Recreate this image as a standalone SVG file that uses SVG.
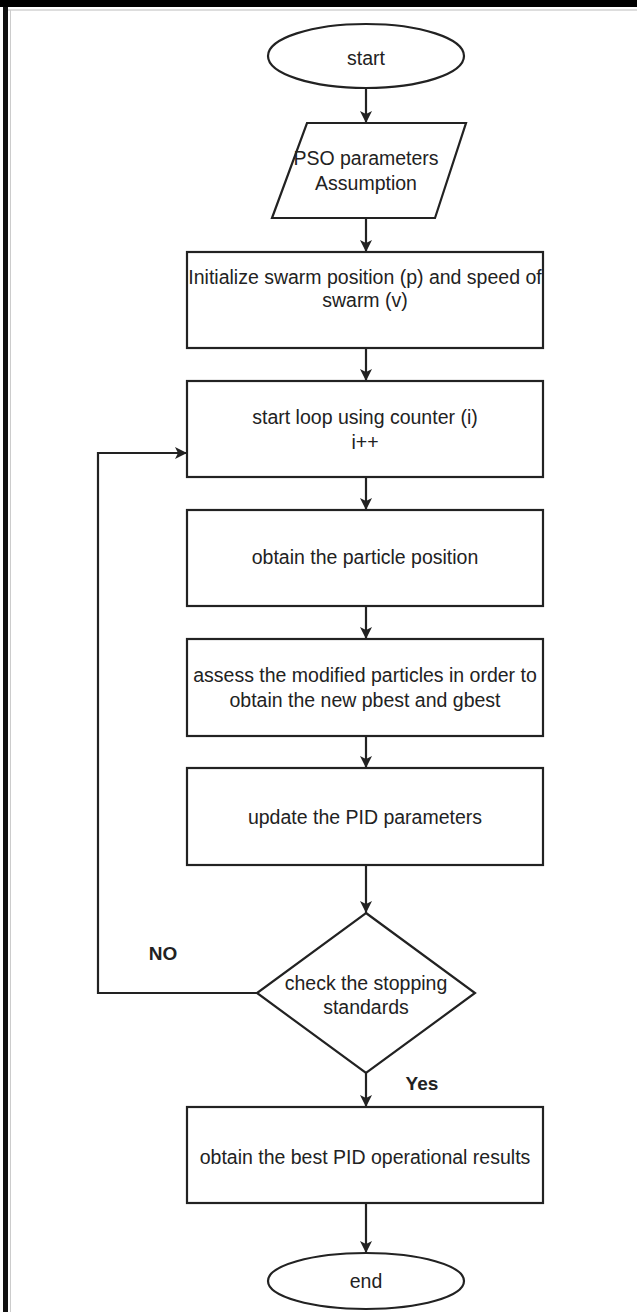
<svg xmlns="http://www.w3.org/2000/svg" width="637" height="1312" viewBox="0 0 637 1312">
<style>
.s{fill:#fff;stroke:#222;stroke-width:2.2}
.t{font-family:"Liberation Sans",Arial,sans-serif;font-size:19.5px;fill:#222;text-anchor:middle}
.b{font-weight:bold;font-size:19px}
.c{fill:none;stroke:#222;stroke-width:2.2}
</style>
<defs>
<marker id="ah" markerUnits="userSpaceOnUse" markerWidth="14" markerHeight="14" viewBox="0 0 14 14" refX="13" refY="7" orient="auto">
<path d="M1,1 L13,7 L1,13 L4,7 z" fill="#222"/>
</marker>
</defs>
<rect x="0" y="0" width="637" height="1312" fill="#fff"/>
<rect x="0" y="0" width="637" height="7" fill="#000"/>
<line x1="8" y1="10" x2="637" y2="10" stroke="#bbb" stroke-width="1"/>
<rect x="3" y="7" width="5" height="1305" fill="#111"/>
<line x1="10.5" y1="10" x2="10.5" y2="1312" stroke="#ccc" stroke-width="1"/>

<g id="connectors">
<line class="c" x1="366" y1="88" x2="366" y2="123" marker-end="url(#ah)"/>
<line class="c" x1="366" y1="218" x2="366" y2="252" marker-end="url(#ah)"/>
<line class="c" x1="366" y1="348" x2="366" y2="381" marker-end="url(#ah)"/>
<line class="c" x1="366" y1="477" x2="366" y2="510" marker-end="url(#ah)"/>
<line class="c" x1="366" y1="606" x2="366" y2="639" marker-end="url(#ah)"/>
<line class="c" x1="366" y1="736" x2="366" y2="768" marker-end="url(#ah)"/>
<line class="c" x1="366" y1="865" x2="366" y2="913" marker-end="url(#ah)"/>
<line class="c" x1="366" y1="1073" x2="366" y2="1107" marker-end="url(#ah)"/>
<line class="c" x1="366" y1="1203" x2="366" y2="1253" marker-end="url(#ah)"/>
<path class="c" d="M257,993 H98 V453 H187" marker-end="url(#ah)"/>
<text class="t b" x="163" y="960">NO</text>
<text class="t b" x="422" y="1090">Yes</text>
</g>

<g id="start">
<ellipse class="s" cx="366" cy="56" rx="98" ry="32"/>
<text class="t" x="366" y="65">start</text>
</g>
<g id="pso">
<polygon class="s" points="307,123 466,123 435,218 272,218"/>
<text class="t" x="366" y="165">PSO parameters</text>
<text class="t" x="366" y="190">Assumption</text>
</g>
<g id="init">
<rect class="s" x="187" y="252" width="356" height="96"/>
<text class="t" x="365" y="284">Initialize swarm position (p) and speed of</text>
<text class="t" x="365" y="307">swarm (v)</text>
</g>
<g id="loop">
<rect class="s" x="187" y="381" width="356" height="96"/>
<text class="t" x="365" y="424">start loop using counter (i)</text>
<text class="t" x="365" y="449">i++</text>
</g>
<g id="position">
<rect class="s" x="187" y="510" width="356" height="96"/>
<text class="t" x="365" y="564">obtain the particle position</text>
</g>
<g id="assess">
<rect class="s" x="187" y="639" width="356" height="97"/>
<text class="t" x="365" y="682">assess the modified particles in order to</text>
<text class="t" x="365" y="707">obtain the new pbest and gbest</text>
</g>
<g id="update">
<rect class="s" x="187" y="768" width="356" height="97"/>
<text class="t" x="365" y="824">update the PID parameters</text>
</g>
<g id="check">
<polygon class="s" points="366,913 475,993 366,1073 257,993"/>
<text class="t" x="366" y="990">check the stopping</text>
<text class="t" x="366" y="1014">standards</text>
</g>
<g id="best">
<rect class="s" x="187" y="1107" width="356" height="96"/>
<text class="t" x="365" y="1164">obtain the best PID operational results</text>
</g>
<g id="end">
<ellipse class="s" cx="366" cy="1281" rx="98" ry="28"/>
<text class="t" x="366" y="1288">end</text>
</g>
</svg>
